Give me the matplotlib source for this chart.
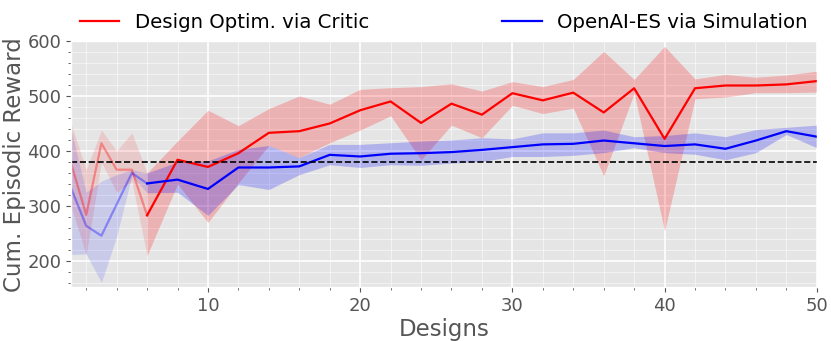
import matplotlib
matplotlib.use("Agg")
import matplotlib.pyplot as plt
from matplotlib.ticker import MultipleLocator

plt.style.use("ggplot")

# designs evaluated (every design up to 6, then every second one)
designs = [1, 2, 3, 4, 5, 6, 8, 10, 12, 14, 16, 18, 20, 22, 24, 26, 28,
           30, 32, 34, 36, 38, 40, 42, 44, 46, 48, 50]

# design optimization via critic
critic_mean = [378, 284, 414, 366, 366, 283, 384, 371, 396, 433, 436, 450,
               474, 490, 451, 486, 466, 505, 492, 506, 470, 514, 422, 514,
               519, 519, 521, 527]
critic_upper = [450, 366, 438, 400, 433, 360, 418, 474, 446, 477, 500, 485,
                512, 515, 517, 522, 509, 526, 517, 530, 581, 530, 590, 531,
                539, 534, 538, 545]
critic_lower = [300, 212, 380, 325, 345, 210, 340, 270, 342, 410, 388, 415,
                438, 464, 384, 447, 424, 483, 468, 478, 355, 505, 255, 495,
                498, 506, 506, 507]

# openai-es via simulation
es_mean = [333, 264, 246, 303, 360, 341, 348, 331, 370, 370, 372, 393,
           390, 395, 396, 398, 402, 407, 412, 413, 419, 414, 409, 412,
           404, 419, 436, 426]
es_upper = [440, 325, 345, 357, 366, 360, 380, 382, 403, 410, 388, 412,
            412, 415, 418, 420, 424, 422, 433, 433, 438, 426, 428, 433,
            426, 439, 443, 447]
es_lower = [212, 213, 161, 245, 355, 324, 325, 283, 339, 330, 357, 375,
            370, 375, 374, 378, 381, 390, 390, 392, 397, 406, 397, 394,
            384, 397, 430, 406]

baseline = 380
n_init = 6  # first designs are the random initial ones (drawn faded)

fig = plt.figure(figsize=(8.31, 3.41), dpi=100)
ax = fig.add_axes([0.0854, 0.157, 0.8975, 0.723])

series = [
    (critic_mean, critic_lower, critic_upper, "red", "Design Optim. via Critic"),
    (es_mean, es_lower, es_upper, "blue", "OpenAI-ES via Simulation"),
]

handles = []
for mean, lower, upper, col, name in series:
    k = n_init
    ax.fill_between(designs[:k], lower[:k], upper[:k], color=col,
                    alpha=0.12, linewidth=0)
    ax.fill_between(designs[k - 1:], lower[k - 1:], upper[k - 1:], color=col,
                    alpha=0.22, linewidth=0)
    ax.plot(designs[:k], mean[:k], color=col, alpha=0.35, linewidth=1.6)
    h, = ax.plot(designs[k - 1:], mean[k - 1:], color=col, linewidth=1.6,
                 label=name)
    handles.append(h)

ax.axhline(baseline, color="black", linestyle="--", linewidth=1.2)

ax.set_xlim(1, 50)
ax.set_ylim(152, 600)
ax.xaxis.set_major_locator(MultipleLocator(10))
ax.xaxis.set_minor_locator(MultipleLocator(2))
ax.yaxis.set_major_locator(MultipleLocator(100))
ax.yaxis.set_minor_locator(MultipleLocator(20))
ax.grid(which="major", color="white", linewidth=1.2)
ax.grid(which="minor", color="white", linewidth=0.6, alpha=0.6)
ax.tick_params(axis="both", which="major", labelsize=13, colors="#555555")
ax.tick_params(axis="both", which="minor", length=2, color="#555555")

ax.set_xlabel("Designs", fontsize=16.5, color="#555555", labelpad=2)
ax.set_ylabel("Cum. Episodic Reward", fontsize=16.5, color="#555555",
              labelpad=1)

ax.legend(handles=handles, loc="lower left", bbox_to_anchor=(0, 1.0, 1, 0.2),
          ncol=2, mode="expand", frameon=False, fontsize=14.2,
          borderaxespad=0.05)

fig.savefig("out.png", dpi=100)
